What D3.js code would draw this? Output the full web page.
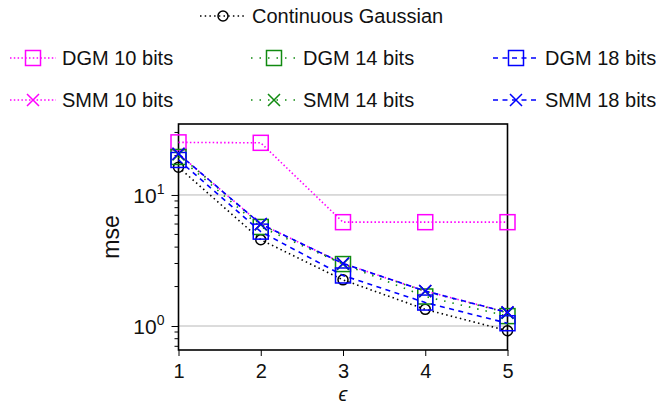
<!DOCTYPE html>
<html>
<head>
<meta charset="utf-8">
<script src="https://cdn.jsdelivr.net/npm/d3@7"></script>
<style>
  body { margin: 0; background: #fff; }
</style>
</head>
<body>
<svg id="chart" width="656" height="406"></svg>
<script>
// data
const eps = [1, 2, 3, 4, 5];
const cg    = [16.3, 4.55, 2.25, 1.34, 0.92];
const dgm10 = [25.2, 25.0, 6.2, 6.2, 6.2];
const dgm14 = [19.5, 5.7, 2.97, 1.68, 1.19];
const dgm18 = [18.5, 5.25, 2.43, 1.51, 1.05];
const smm10 = [20.6, 6.0, 3.0, 1.85, 1.27];
const smm14 = [20.4, 5.95, 2.98, 1.84, 1.26];
const smm18 = [20.6, 6.0, 3.0, 1.85, 1.27];
const xTicks = [1, 2, 3, 4, 5];
const yMajor = [1, 10];
const yMinor = [0.7, 0.8, 0.9, 2, 3, 4, 5, 6, 7, 8, 9, 20, 30];

const series = [
  {name: "Continuous Gaussian", values: cg,    color: "#000",    dash: "1.5,3.2", mark: "circle"},
  {name: "DGM 10 bits",         values: dgm10, color: "#ff00ff", dash: "1.5,2.3", mark: "square"},
  {name: "DGM 14 bits",         values: dgm14, color: "#108a10", dash: "1.5,7",   mark: "square"},
  {name: "DGM 18 bits",         values: dgm18, color: "#0000ff", dash: "5,4.5",   mark: "square"},
  {name: "SMM 10 bits",         values: smm10, color: "#ff00ff", dash: "1.5,2.3", mark: "cross"},
  {name: "SMM 14 bits",         values: smm14, color: "#108a10", dash: "1.5,7",   mark: "cross"},
  {name: "SMM 18 bits",         values: smm18, color: "#0000ff", dash: "5,4.5",   mark: "cross"}
];

const FONT = "'Liberation Sans', Arial, sans-serif";
const svg = d3.select("#chart").attr("font-family", FONT);
const plot = {left: 178.5, right: 507.5, top: 124, bottom: 350};

const x = d3.scaleLinear().domain([1, 5]).range([plot.left, plot.right]);
const y = d3.scaleLog().domain([0.656, 34.8]).range([plot.bottom, plot.top]);

// grid lines at decades
svg.append("g").selectAll("line").data(yMajor).join("line")
  .attr("x1", plot.left).attr("x2", plot.right)
  .attr("y1", d => y(d)).attr("y2", d => y(d))
  .attr("stroke", "#b8b8b8").attr("stroke-width", 1);

// axes
const xAxis = svg.append("g").attr("transform", `translate(0,${plot.bottom})`)
  .call(d3.axisBottom(x).tickValues(xTicks).tickFormat(d3.format("d")).tickSize(6).tickSizeOuter(0));
xAxis.attr("font-family", FONT);
xAxis.select(".domain").remove();
xAxis.selectAll("line").attr("stroke", "#000").attr("stroke-width", 1);
xAxis.selectAll("text").attr("font-size", 20).attr("fill", "#111").attr("dy", "0.95em");

const yAxis = svg.append("g").attr("transform", `translate(${plot.left},0)`)
  .call(d3.axisLeft(y).tickValues(yMajor).tickFormat("").tickSize(7).tickSizeOuter(0));
yAxis.select(".domain").remove();
yAxis.selectAll("line").attr("stroke", "#000");

svg.append("g").selectAll("line").data(yMinor).join("line")
  .attr("x1", plot.left - 4).attr("x2", plot.left)
  .attr("y1", d => y(d)).attr("y2", d => y(d))
  .attr("stroke", "#000").attr("stroke-width", 1);

// tick labels 10^k
const yl = svg.append("g").selectAll("text").data(yMajor).join("text")
  .attr("x", plot.left - 14).attr("y", d => y(d) + 8)
  .attr("text-anchor", "end").attr("font-size", 21).attr("fill", "#111");
yl.append("tspan").text("10");
yl.append("tspan").attr("dy", -9).attr("font-size", 14).text(d => Math.round(Math.log10(d)));

// frame
svg.append("rect")
  .attr("x", plot.left).attr("y", plot.top)
  .attr("width", plot.right - plot.left).attr("height", plot.bottom - plot.top)
  .attr("fill", "none").attr("stroke", "#000").attr("stroke-width", 1.6);

// axis labels
svg.append("text").attr("transform", `translate(119,${(plot.top + plot.bottom) / 2}) rotate(-90)`)
  .attr("text-anchor", "middle").attr("font-size", 23).attr("fill", "#111").text("mse");
svg.append("text").attr("x", (plot.left + plot.right) / 2).attr("y", 401)
  .attr("text-anchor", "middle").attr("font-size", 20).attr("font-style", "italic").attr("fill", "#111").text("ϵ");

// markers
function drawMark(g, type, color, cx, cy) {
  if (type === "circle") {
    g.append("circle").attr("cx", cx).attr("cy", cy).attr("r", 5)
      .attr("fill", "none").attr("stroke", color).attr("stroke-width", 1.5);
  } else if (type === "square") {
    g.append("rect").attr("x", cx - 7.5).attr("y", cy - 7.5).attr("width", 15).attr("height", 15)
      .attr("fill", "none").attr("stroke", color).attr("stroke-width", 1.5);
  } else {
    g.append("path").attr("d", `M${cx - 6},${cy - 6}L${cx + 6},${cy + 6}M${cx - 6},${cy + 6}L${cx + 6},${cy - 6}`)
      .attr("stroke", color).attr("stroke-width", 1.5);
  }
}

const line = d3.line().x((d, i) => x(eps[i])).y(d => y(d));
const plotG = svg.append("g");
series.forEach(s => {
  plotG.append("path").datum(s.values).attr("d", line)
    .attr("fill", "none").attr("stroke", s.color).attr("stroke-width", 1.6)
    .attr("stroke-dasharray", s.dash);
  s.values.forEach((v, i) => drawMark(plotG, s.mark, s.color, x(eps[i]), y(v)));
});

// legend
const legendPos = [
  {x: 200, y: 16},
  {x: 10, y: 58}, {x: 251, y: 58}, {x: 493, y: 58},
  {x: 10, y: 100}, {x: 251, y: 100}, {x: 493, y: 100}
];
series.forEach((s, i) => {
  const p = legendPos[i];
  const g = svg.append("g");
  g.append("line").attr("x1", p.x).attr("x2", p.x + 46).attr("y1", p.y).attr("y2", p.y)
    .attr("stroke", s.color).attr("stroke-width", 1.3).attr("stroke-dasharray", s.dash);
  drawMark(g, s.mark, s.color, p.x + 23, p.y);
  g.append("text").attr("x", p.x + 52).attr("y", p.y + 7).attr("font-size", 20).attr("fill", "#111").text(s.name);
});
</script>
</body>
</html>
